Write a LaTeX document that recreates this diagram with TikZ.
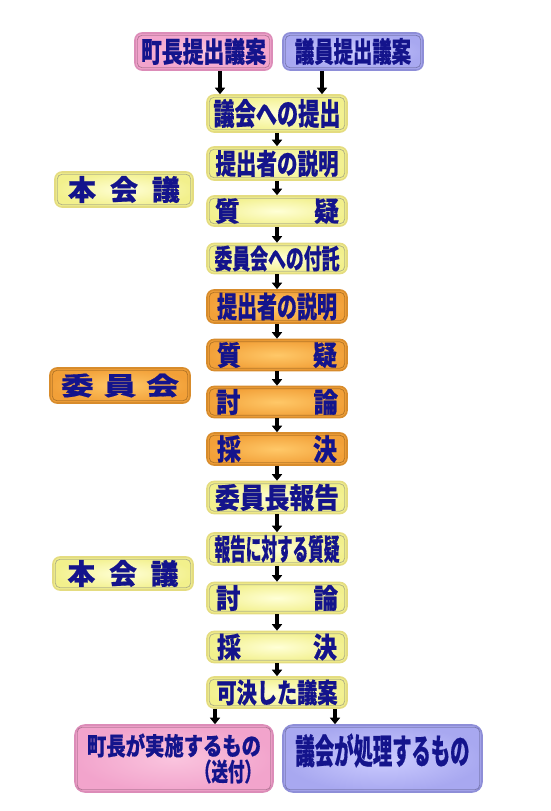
\documentclass[tikz,border=0pt]{standalone}
\usepackage{fontspec}
\setmainfont{Noto Sans CJK JP}[BoldFeatures={FakeBold=0.6}]
\usetikzlibrary{arrows.meta,calc}
\definecolor{txt}{HTML}{14148C}
\definecolor{yi}{HTML}{FFFFD6}
\definecolor{yo}{HTML}{F2F08C}
\definecolor{yb}{HTML}{E4DC80}
\definecolor{oi}{HTML}{FFC868}
\definecolor{oo}{HTML}{F2A038}
\definecolor{ob}{HTML}{D88C2C}
\definecolor{pi}{HTML}{FAC4DE}
\definecolor{po}{HTML}{F2A4CC}
\definecolor{pb}{HTML}{DC8CB8}
\definecolor{li}{HTML}{CCCCFF}
\definecolor{lo}{HTML}{A8A8F0}
\definecolor{lb}{HTML}{8E8ED8}
\newcommand\fit[3]{\resizebox*{#1pt}{#2pt}{#3}}
\begin{document}
\begin{tikzpicture}[x=1pt,y=-1pt,
  bx/.style={rounded corners=7pt, inner sep=0pt, line width=1.6pt, font=\bfseries,
    text=txt, minimum width=140pt, minimum height=32pt},
  ybox/.style={bx, draw=yb, inner color=yi, outer color=yo},
  obox/.style={bx, draw=ob, inner color=oi, outer color=oo},
  pbox/.style={bx, draw=pb, inner color=pi, outer color=po},
  lbox/.style={bx, draw=lb, inner color=li, outer color=lo},
  txtonly/.style={inner sep=0pt, font=\bfseries, text=txt},
  bevel/.style={line width=0.8pt, rounded corners=5pt, draw opacity=0.55},
  arr/.style={line width=3.6pt, -{Triangle[width=10pt,length=6.5pt]}}
]
\path[use as bounding box] (0,0) rectangle (550,811);

% top sources
\node[pbox, minimum width=137pt, minimum height=37pt] (a1) at (203.5,51.5) {\fit{125}{27}{町長提出議案}};
\node[lbox, minimum width=140pt, minimum height=37pt] (a2) at (353,51.5) {\fit{116}{27}{議員提出議案}};

% main chain
\node[ybox, minimum height=37pt] (b) at (277,113.5) {\fit{127}{29}{議会への提出}};
\node[ybox, minimum height=33pt] (c) at (277,163.5) {\fit{123}{27}{提出者の説明}};
\node[ybox, minimum height=30pt] (d) at (277,211) {\fit{124}{26}{\makebox[5em][s]{質\hfill 疑}}};
\node[ybox, minimum height=30pt] (e) at (277,258.5) {\fit{125}{26}{委員会への付託}};
\node[obox, minimum height=33pt] (f) at (277,306.5) {\fit{120}{28}{提出者の説明}};
\node[obox, minimum height=31pt] (g) at (277,355) {\fit{120}{26}{\makebox[5em][s]{質\hfill 疑}}};
\node[obox, minimum height=31pt] (h) at (277,402) {\fit{122}{26}{\makebox[5em][s]{討\hfill 論}}};
\node[obox, minimum height=32pt] (i) at (277,449) {\fit{120}{28}{\makebox[5em][s]{採\hfill 決}}};
\node[ybox, minimum height=32pt] (j) at (277,497.5) {\fit{124}{27}{委員長報告}};
\node[ybox, minimum height=32pt] (k) at (277,549) {\fit{125}{28}{報告に対する質疑}};
\node[ybox, minimum height=31pt] (l) at (277,598) {\fit{122}{26}{\makebox[5em][s]{討\hfill 論}}};
\node[ybox, minimum height=31pt] (m) at (277,647) {\fit{120}{27}{\makebox[5em][s]{採\hfill 決}}};
\node[ybox, minimum height=31pt] (n) at (277,692.5) {\fit{121}{26}{可決した議案}};

% outcomes
\node[pbox, minimum width=198pt, minimum height=67pt, rounded corners=10pt, align=right] (o) at (174,758.5)
  {\fit{174}{24}{町長が実施するもの}\\[1pt]\fit{66}{24}{（送付）}};
\node[lbox, minimum width=199pt, minimum height=67pt, rounded corners=10pt] (p) at (382.5,758.5) {};
\node[txtonly] (pt) at ($(p.center)+(0,-8)$) {\fit{174}{34}{議会が処理するもの}};

% side labels
\node[ybox, minimum width=138pt, minimum height=35pt] (L1) at (124,189.5) {\fit{112}{27}{\makebox[4em][s]{本\hfill 会\hfill 議}}};
\node[obox, minimum width=140pt, minimum height=35pt] (L2) at (120,385.5) {\fit{118}{24}{\makebox[3.6em][s]{委\hfill 員\hfill 会}}};
\node[ybox, minimum width=140pt, minimum height=33pt] (L3) at (123,573.5) {\fit{111}{27}{\makebox[4em][s]{本\hfill 会\hfill 議}}};

% inner bevel lines
\foreach \nd/\cl in {a1/pb!60!black, a2/lb!60!black, b/gray, c/gray, d/gray, e/gray,
  f/ob!60!black, g/ob!60!black, h/ob!60!black, i/ob!60!black, j/gray, k/gray, l/gray,
  m/gray, n/gray, o/pb!60!black, p/lb!60!black, L1/gray, L2/ob!60!black, L3/gray}
  \draw[bevel, draw=\cl] ([shift={(3,3)}]\nd.north west) rectangle ([shift={(-3,-3)}]\nd.south east);

% connectors
\draw[arr] ($(a1.south)+(16.5,0)$) -- ($(b.north)+(-57,0)$);
\draw[arr] ($(a2.south)+(-31,0)$) -- ($(b.north)+(45,0)$);
\foreach \u/\v in {b/c,c/d,d/e,e/f,f/g,g/h,h/i,i/j,j/k,k/l,l/m,m/n}
  \draw[arr] (\u) -- (\v);
\draw[arr] ($(n.south)+(-62,0)$) -- ($(o.north)+(41,0)$);
\draw[arr] ($(n.south)+(58,0)$) -- ($(p.north)+(-47.5,0)$);
\end{tikzpicture}
\end{document}
